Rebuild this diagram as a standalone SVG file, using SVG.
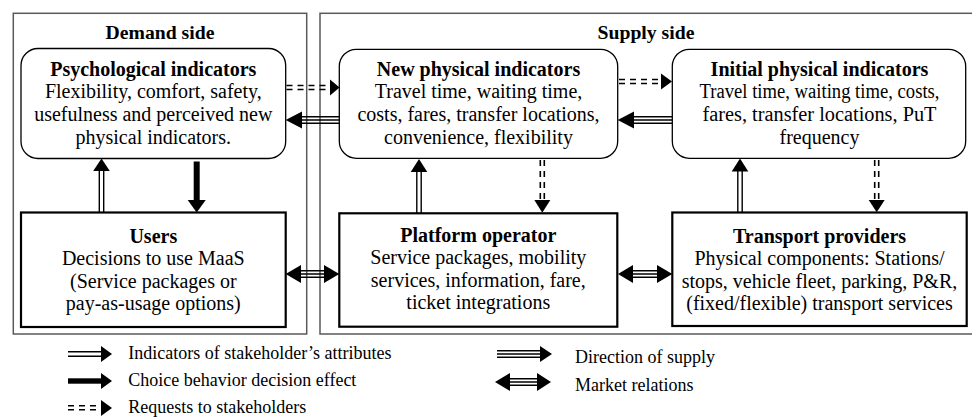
<svg xmlns="http://www.w3.org/2000/svg" width="972" height="417" viewBox="0 0 972 417">
  <style>
    text { font-family: "Liberation Serif", "Times New Roman", serif; fill: #000; }
    .node { font-size: 20px; text-anchor: middle; }
    .title { font-weight: bold; }
    .side { font-size: 19.7px; font-weight: bold; text-anchor: middle; }
    .legend { font-size: 18px; }
    .frame { fill: #fff; stroke: #5a5a5a; stroke-width: 1.5; }
    .soft { fill: #fff; stroke: #000; stroke-width: 1.3; }
    .hard { fill: #fff; stroke: #000; stroke-width: 2.2; }
    .ln { stroke: #000; stroke-width: 1.4; fill: none; }
    .dash { stroke: #000; stroke-width: 1.6; fill: none; stroke-dasharray: 6 5; }
    .head { fill: #000; stroke: none; }
  </style>

  <!-- side frames -->
  <g id="demand-side">
    <rect class="frame" x="13.3" y="13.3" width="293.4" height="320.7"/>
    <text class="side" x="160" y="39">Demand side</text>
  </g>
  <g id="supply-side">
    <rect class="frame" x="320" y="13.3" width="660" height="320.7"/>
    <text class="side" x="646" y="39">Supply side</text>
  </g>

  <!-- indicator nodes -->
  <g id="psychological-indicators">
    <rect class="soft" x="21" y="48.5" width="264.7" height="110" rx="17"/>
    <text class="node" x="153.3" y="75.5"><tspan class="title">Psychological indicators</tspan><tspan x="153.3" y="98.3">Flexibility, comfort, safety,</tspan><tspan x="153.3" y="121">usefulness and perceived new</tspan><tspan x="153.3" y="143.8">physical indicators.</tspan></text>
  </g>
  <g id="new-physical-indicators">
    <rect class="soft" x="339.3" y="49.3" width="278.4" height="109" rx="17"/>
    <text class="node" x="478.5" y="75.5"><tspan class="title">New physical indicators</tspan><tspan x="478.5" y="98.3">Travel time, waiting time,</tspan><tspan x="478.5" y="121">costs, fares, transfer locations,</tspan><tspan x="478.5" y="143.8">convenience, flexibility</tspan></text>
  </g>
  <g id="initial-physical-indicators">
    <rect class="soft" x="672.3" y="49.3" width="293.4" height="109" rx="17"/>
    <text class="node" x="819.5" y="75.5"><tspan class="title">Initial physical indicators</tspan></text>
    <text class="node" x="819.5" y="98.3" textLength="240" lengthAdjust="spacingAndGlyphs">Travel time, waiting time, costs,</text>
    <text class="node" x="819.5" y="121" textLength="234" lengthAdjust="spacingAndGlyphs">fares, transfer locations, PuT</text>
    <text class="node" x="819.5" y="143.8">frequency</text>
  </g>

  <!-- stakeholder nodes -->
  <g id="users">
    <rect class="hard" x="21" y="212.5" width="264.7" height="114.5"/>
    <text class="node" x="153.3" y="242.5"><tspan class="title">Users</tspan><tspan x="153.3" y="265">Decisions to use MaaS</tspan><tspan x="153.3" y="287.5">(Service packages or</tspan><tspan x="153.3" y="310">pay-as-usage options)</tspan></text>
  </g>
  <g id="platform-operator">
    <rect class="hard" x="339.3" y="213.3" width="278" height="113.4"/>
    <text class="node" x="478.3" y="241.5"><tspan class="title">Platform operator</tspan><tspan x="478.3" y="264">Service packages, mobility</tspan><tspan x="478.3" y="286.5">services, information, fare,</tspan><tspan x="478.3" y="309">ticket integrations</tspan></text>
  </g>
  <g id="transport-providers">
    <rect class="hard" x="672.3" y="212.5" width="294.4" height="113.5"/>
    <text class="node" x="819.5" y="242.5"><tspan class="title">Transport providers</tspan><tspan x="819.5" y="265">Physical components: Stations/</tspan><tspan x="819.5" y="287.5">stops, vehicle fleet, parking, P&amp;R,</tspan><tspan x="819.5" y="310">(fixed/flexible) transport services</tspan></text>
  </g>

  <!-- connectors -->
  <g id="connectors">
    <!-- requests: psychological -> new physical -->
    <path class="dash" d="M286.5 85.5H330M286.5 89.5H330"/>
    <polygon class="head" points="330,79.5 339.5,87.5 330,95.5"/>
    <!-- requests: new physical -> initial physical -->
    <path class="dash" d="M619 79.5H662M619 83.5H662"/>
    <polygon class="head" points="661,73.5 672,81.5 661,89.5"/>

    <!-- supply: new physical -> psychological -->
    <path class="ln" d="M301 116.7H339.3M301 120H339.3M301 123.3H339.3"/>
    <polygon class="head" points="302,111.5 285.7,120 302,128.5"/>
    <!-- supply: initial physical -> new physical -->
    <path class="ln" d="M633 116.7H672.3M633 120H672.3M633 123.3H672.3"/>
    <polygon class="head" points="634,111.5 617.7,120 634,128.5"/>

    <!-- indicators: users -> psychological -->
    <path class="ln" d="M99.3 212.5V170M103.7 212.5V170"/>
    <polygon class="head" points="93.2,171 101.5,158.5 109.8,171"/>
    <!-- choice: psychological -> users -->
    <rect class="head" x="193.7" y="161.5" width="6" height="39"/>
    <polygon class="head" points="187.7,200 196.7,212.5 205.7,200"/>

    <!-- indicators: platform -> new physical -->
    <path class="ln" d="M416.8 213.3V171M421.2 213.3V171"/>
    <polygon class="head" points="410.7,172 419,159 427.3,172"/>
    <!-- requests: new physical -> platform -->
    <path class="dash" d="M540.3 160V201M544.3 160V201"/>
    <polygon class="head" points="534.3,200 542.3,212.8 550.3,200"/>

    <!-- indicators: transport -> initial physical -->
    <path class="ln" d="M737.8 212.5V171M742.2 212.5V171"/>
    <polygon class="head" points="731.7,171.5 740,158.5 748.3,171.5"/>
    <!-- requests: initial physical -> transport -->
    <path class="dash" d="M874.7 160V200M878.7 160V200"/>
    <polygon class="head" points="868.7,200 876.7,212.3 884.7,200"/>

    <!-- market relations -->
    <path class="ln" d="M300 270.7H325M300 274H325M300 277.3H325"/>
    <polygon class="head" points="301,265 285.7,274 301,283"/>
    <polygon class="head" points="324,265 339.3,274 324,283"/>
    <path class="ln" d="M632 270.7H658M632 274H658M632 277.3H658"/>
    <polygon class="head" points="633,265 618,274 633,283"/>
    <polygon class="head" points="657,265 672.3,274 657,283"/>
  </g>

  <!-- legend -->
  <g id="legend">
    <path class="ln" d="M68 351.8H102M68 356.2H102"/>
    <polygon class="head" points="101,346 112,354 101,362"/>
    <text class="legend" x="128.3" y="358.5">Indicators of stakeholder’s attributes</text>

    <rect class="head" x="68" y="378.3" width="34" height="5.4"/>
    <polygon class="head" points="101,373 112,381 101,389"/>
    <text class="legend" x="128.3" y="385.7">Choice behavior decision effect</text>

    <path class="dash" d="M68 405.8H102M68 409.8H102"/>
    <polygon class="head" points="101,400 112,408 101,416"/>
    <text class="legend" x="128.3" y="412.5">Requests to stakeholders</text>

    <path class="ln" d="M497 350.7H541M497 354H541M497 357.3H541"/>
    <polygon class="head" points="540,346 552,354 540,362"/>
    <text class="legend" x="575" y="363">Direction of supply</text>

    <path class="ln" d="M508 378.7H539M508 382H539M508 385.3H539"/>
    <polygon class="head" points="510,373 495,382 510,391"/>
    <polygon class="head" points="537,373 551,382 537,391"/>
    <text class="legend" x="575" y="390.5">Market relations</text>
  </g>
</svg>
